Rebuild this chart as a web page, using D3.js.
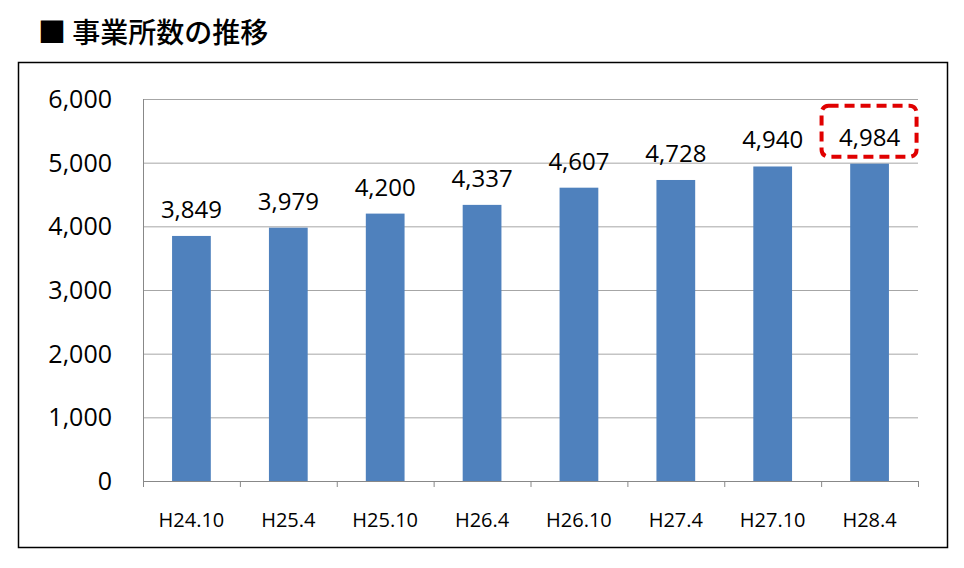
<!DOCTYPE html>
<html><head><meta charset="utf-8">
<script src="https://cdn.jsdelivr.net/npm/d3@7"></script>
<style>body{margin:0;background:#fff;font-family:"Open Sans","Noto Sans CJK JP",sans-serif}</style>
</head><body>
<svg id="chart" width="964" height="568"></svg>
<script>
const categories = ['H24.10','H25.4','H25.10','H26.4','H26.10','H27.4','H27.10','H28.4'];
const values = [3849, 3979, 4200, 4337, 4607, 4728, 4940, 4984];
const yTicks = [0, 1000, 2000, 3000, 4000, 5000, 6000];

const svg = d3.select('#chart');
const m = {left: 143, right: 918, top: 99, bottom: 481};

// title
svg.append('text').attr('x', 38).attr('y', 43)
  .attr('font-size', 28).attr('font-weight', 500).attr('font-family', '"Noto Sans CJK JP"').attr('fill', '#000')
  .text('■ 事業所数の推移');

// frame
svg.append('rect').attr('x', 18.5).attr('y', 62.5).attr('width', 929).attr('height', 485)
  .attr('fill', 'none').attr('stroke', '#000').attr('stroke-width', 1.5);

const x = d3.scaleBand().domain(categories).range([m.left, m.right]).paddingInner(0.6).paddingOuter(0.3);
const y = d3.scaleLinear().domain([0, 6000]).range([m.bottom, m.top]);

// grid
svg.append('g').selectAll('line').data(yTicks.slice(1)).join('line')
  .attr('x1', m.left).attr('x2', m.right)
  .attr('y1', d => y(d) + 0.5).attr('y2', d => y(d) + 0.5)
  .attr('stroke', '#a6a6a6').attr('stroke-width', 1);

// y labels
svg.append('g').selectAll('text').data(yTicks).join('text')
  .attr('x', 112).attr('y', d => y(d) + 9)
  .attr('text-anchor', 'end').attr('font-size', 25).attr('fill', '#000')
  .text(d => d3.format(',')(d));

// bars
svg.append('g').selectAll('rect').data(values).join('rect')
  .attr('x', (d, i) => x(categories[i])).attr('width', x.bandwidth())
  .attr('y', d => y(d)).attr('height', d => y(0) - y(d))
  .attr('fill', '#4f81bd');

// axes lines
svg.append('line').attr('x1', m.left + 0.5).attr('x2', m.left + 0.5).attr('y1', m.top).attr('y2', m.bottom)
  .attr('stroke', '#888');
svg.append('line').attr('x1', m.left).attr('x2', m.right).attr('y1', m.bottom + 0.5).attr('y2', m.bottom + 0.5)
  .attr('stroke', '#888');
svg.append('g').selectAll('line').data(d3.range(categories.length + 1)).join('line')
  .attr('x1', i => m.left + i * (m.right - m.left) / categories.length + 0.5)
  .attr('x2', i => m.left + i * (m.right - m.left) / categories.length + 0.5)
  .attr('y1', m.bottom).attr('y2', m.bottom + 6).attr('stroke', '#888');

// x labels
svg.append('g').selectAll('text').data(categories).join('text')
  .attr('x', d => x(d) + x.bandwidth() / 2).attr('y', 527)
  .attr('text-anchor', 'middle').attr('font-size', 20).attr('fill', '#000')
  .text(d => d);

// value labels
svg.append('g').selectAll('text').data(values).join('text')
  .attr('x', (d, i) => x(categories[i]) + x.bandwidth() / 2).attr('y', d => y(d) - 18)
  .attr('text-anchor', 'middle').attr('font-size', 24).attr('fill', '#000')
  .text(d => d3.format(',')(d));

// highlight box on last value
const last = categories.length - 1;
const cx = x(categories[last]) + x.bandwidth() / 2;
svg.append('rect').attr('x', cx - 48).attr('y', y(values[last]) - 58).attr('width', 95).attr('height', 51)
  .attr('rx', 7).attr('fill', 'none').attr('stroke', '#e00000').attr('stroke-width', 4)
  .attr('stroke-dasharray', '10,6');
</script>
</body></html>
